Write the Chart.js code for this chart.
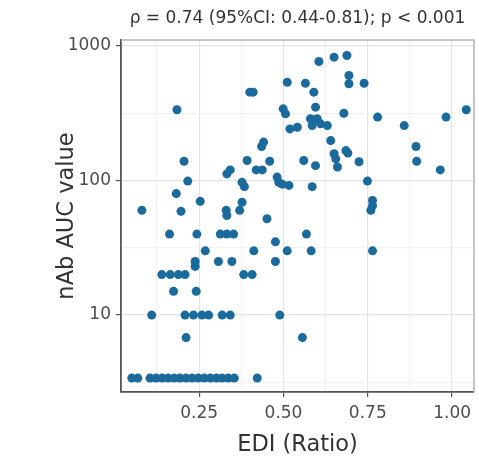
<!doctype html>
<html lang="en">
  <head>
    <title>EDI vs nAb AUC</title>
    <meta charset="UTF-8" />
    <script src="https://cdn.jsdelivr.net/npm/chart.js"></script>
    <style>
      html,
      body {
        margin: 0;
        background: #ffffff;
      }
      .chart-container {
        width: 479px;
        height: 464px;
      }
    </style>
  </head>
  <body>
    <div class="chart-container">
      <canvas id="scatterChart"></canvas>
    </div>

    <script>
      // values
      const edi = [
        0.08, 0.184, 0.205, 0.216, 0.182, 0.196, 0.253, 0.332, 0.342, 0.377, 0.384, 0.392, 0.4, 0.41,
        0.419, 0.437, 0.441, 0.435, 0.459, 0.377, 0.37, 0.33, 0.332, 0.451, 0.481, 0.486, 0.496, 0.511,
        0.499, 0.506, 0.519, 0.605, 0.65, 0.688, 0.694, 0.694, 0.739, 0.565, 0.59, 0.595, 0.679, 0.779,
        0.858, 0.982, 1.042, 0.58, 0.6, 0.585, 0.61, 0.63, 0.541, 0.64, 0.65, 0.655, 0.66, 0.685, 0.691,
        0.724, 0.56, 0.595, 0.516, 0.585, 0.749, 0.764, 0.764, 0.759, 0.893, 0.895, 0.965, 0.162, 0.243,
        0.3125, 0.332, 0.352, 0.476, 0.511, 0.268, 0.412, 0.238, 0.238, 0.307, 0.347, 0.476, 0.139,
        0.164, 0.188, 0.208, 0.382, 0.407, 0.174, 0.241, 0.109, 0.208, 0.233, 0.258, 0.278, 0.318, 0.342,
        0.489, 0.211, 0.05, 0.068, 0.104, 0.122, 0.14, 0.158, 0.176, 0.193, 0.211, 0.229, 0.247, 0.265,
        0.283, 0.301, 0.318, 0.336, 0.354, 0.422, 0.568, 0.582, 0.764, 0.556,
      ]
      const nabAuc = [
        60, 336, 139, 99, 80, 59, 70, 112, 120, 97, 90, 141, 454, 454, 120, 120, 193, 179, 139, 69, 60,
        60, 55, 52, 106, 97, 94, 538, 341, 313, 242, 767, 826, 850, 604, 524, 529, 529, 454, 351, 316,
        296, 256, 296, 336, 288, 288, 256, 264, 256, 249, 198, 158, 145, 126, 167, 160, 138, 141, 129,
        92, 90, 99, 71, 65, 60, 179, 139, 120, 40, 40, 40, 40, 40, 35, 30, 30, 30, 25, 23, 25, 25, 25,
        20, 20, 20, 20, 20, 20, 15, 15, 10, 10, 10, 10, 10, 10, 10, 10, 6.8, 3.4, 3.4, 3.4, 3.4, 3.4,
        3.4, 3.4, 3.4, 3.4, 3.4, 3.4, 3.4, 3.4, 3.4, 3.4, 3.4, 3.4, 3.4, 40, 30, 30, 6.8,
      ]

      const xMajorTicks = [0.25, 0.5, 0.75, 1.0]
      const xMinorTicks = [0.125, 0.375, 0.625, 0.875]
      const yMajorTicks = [10, 100, 1000]
      const yMinorTicks = [3.162, 31.62, 316.2]
      const titleText = 'ρ = 0.74 (95%CI: 0.44-0.81); p < 0.001'

      const fontFamily = '"DejaVu Sans", Arial, sans-serif'
      const isMajor = (list, v) => list.some((m) => Math.abs(m - v) < 1e-6)

      // top + right panel border (ggplot style box)
      const panelBorder = {
        id: 'panelBorder',
        afterDatasetsDraw(chart) {
          const { ctx, chartArea } = chart
          ctx.save()
          ctx.strokeStyle = '#b3b3b3'
          ctx.lineWidth = 1.5
          ctx.beginPath()
          ctx.moveTo(chartArea.left, chartArea.top)
          ctx.lineTo(chartArea.right, chartArea.top)
          ctx.lineTo(chartArea.right, chartArea.bottom)
          ctx.stroke()
          ctx.restore()
        },
      }

      new Chart(document.getElementById('scatterChart'), {
        type: 'scatter',
        data: {
          datasets: [
            {
              data: edi.map((x, i) => ({ x, y: nabAuc[i] })),
              backgroundColor: '#1b6a9c',
              borderWidth: 0,
              pointRadius: 4.5,
            },
          ],
        },
        options: {
          responsive: true,
          maintainAspectRatio: false,
          animation: false,
          layout: { padding: { left: 0, right: 5, top: 0, bottom: 0 } },
          plugins: {
            legend: { display: false },
            tooltip: { enabled: false },
            title: {
              display: true,
              fullSize: false,
              text: titleText,
              color: '#333333',
              font: { family: fontFamily, size: 17, weight: 'normal', lineHeight: 1.2 },
              padding: { top: 8, bottom: 11.6 },
              align: 'center',
            },
          },
          scales: {
            x: {
              type: 'linear',
              min: 0.018,
              max: 1.065,
              afterBuildTicks: (scale) => {
                scale.ticks = [...xMinorTicks, ...xMajorTicks]
                  .sort((a, b) => a - b)
                  .map((value) => ({ value }))
              },
              afterFit: (scale) => {
                scale.height = 72
              },
              ticks: {
                autoSkip: false,
                maxRotation: 0,
                padding: 6,
                color: '#4d4d4d',
                font: { family: fontFamily, size: 17 },
                callback: (v) => (isMajor(xMajorTicks, v) ? v.toFixed(2) : ''),
              },
              grid: {
                color: (c) => (c.tick && isMajor(xMajorTicks, c.tick.value) ? '#e3e3e3' : '#f2f2f2'),
                lineWidth: 1.2,
                tickLength: 5,
                tickColor: (c) =>
                  c.tick && isMajor(xMajorTicks, c.tick.value) ? '#555555' : 'rgba(0,0,0,0)',
              },
              border: { color: '#555555', width: 1.8 },
              title: {
                display: true,
                text: 'EDI (Ratio)',
                color: '#333333',
                font: { family: fontFamily, size: 22.5 },
                padding: { top: 0, bottom: 5 },
              },
            },
            y: {
              type: 'logarithmic',
              min: 2.68,
              max: 1108,
              afterBuildTicks: (scale) => {
                scale.ticks = [...yMinorTicks, ...yMajorTicks]
                  .sort((a, b) => a - b)
                  .map((value) => ({ value }))
              },
              afterFit: (scale) => {
                scale.width = 121
              },
              ticks: {
                autoSkip: false,
                padding: 5,
                color: '#4d4d4d',
                font: { family: fontFamily, size: 17 },
                callback: (v) => (isMajor(yMajorTicks, v) ? String(v) : ''),
              },
              grid: {
                color: (c) => (c.tick && isMajor(yMajorTicks, c.tick.value) ? '#e3e3e3' : '#f2f2f2'),
                lineWidth: 1.2,
                tickLength: 5,
                tickColor: (c) =>
                  c.tick && isMajor(yMajorTicks, c.tick.value) ? '#555555' : 'rgba(0,0,0,0)',
              },
              border: { color: '#555555', width: 1.8 },
              title: {
                display: true,
                text: 'nAb AUC value',
                color: '#333333',
                font: { family: fontFamily, size: 22.5 },
                padding: { top: 54, bottom: 0 },
              },
            },
          },
        },
        plugins: [panelBorder],
      })
    </script>
  </body>
</html>
